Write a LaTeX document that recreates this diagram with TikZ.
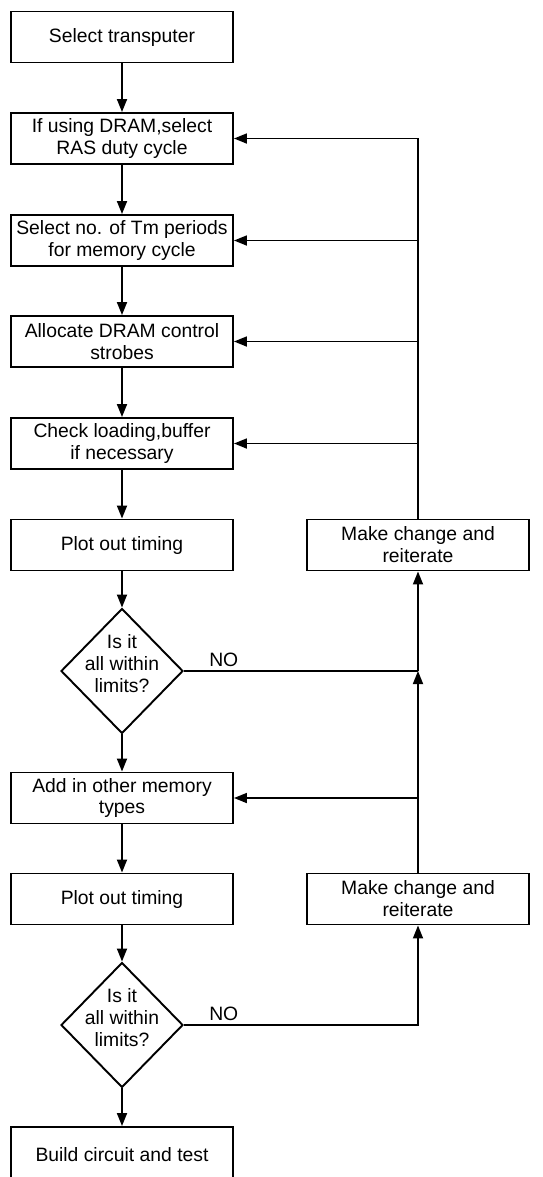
\documentclass[tikz,border=0pt]{standalone}
\usepackage{fontspec}
\setmainfont{Liberation Sans}
\usetikzlibrary{shapes.geometric, arrows.meta, calc}

\begin{document}
\begin{tikzpicture}[
    stepbox/.style={draw, line width=1.1pt, minimum width=4.44cm, minimum height=1.02cm, inner sep=2pt, align=center, font=\fontsize{11}{12.5}\selectfont},
    decision/.style={draw, diamond, line width=1.1pt, minimum width=2.44cm, minimum height=2.5cm, inner sep=0pt, font=\fontsize{11}{12.5}\selectfont},
    arrow/.style={-{Triangle[length=2.6mm, width=2mm]}, line width=1pt},
    link/.style={line width=1pt},
    nolabel/.style={font=\fontsize{11}{12.5}\selectfont, inner sep=2pt}
]
    \useasboundingbox (0,0) rectangle (10.84,-23.54);
    \clip (0,0) rectangle (10.84,-23.54);

    % Steps
    \node[stepbox] (b1) at (2.44,-0.74) {Select transputer};
    \node[stepbox] (b2) at (2.44,-2.77) {If using DRAM,select\\RAS duty cycle};
    \node[stepbox] (b3) at (2.44,-4.81) {Select no. of Tm periods\\for memory cycle};
    \node[stepbox] (b4) at (2.44,-6.83) {Allocate DRAM control\\strobes};
    \node[stepbox] (b5) at (2.44,-8.87) {Check loading,buffer\\if necessary};
    \node[stepbox] (b6) at (2.44,-10.9) {Plot out timing};
    \node[decision] (d1) at (2.44,-13.42) {\makebox[0pt]{\smash{\begin{tabular}{@{}c@{}}Is it\\all within\\limits?\end{tabular}}}};
    \node[stepbox] (b7) at (2.44,-15.96) {Add in other memory\\types};
    \node[stepbox] (b8) at (2.44,-17.98) {Plot out timing};
    \node[decision] (d2) at (2.44,-20.5) {\makebox[0pt]{\smash{\begin{tabular}{@{}c@{}}Is it\\all within\\limits?\end{tabular}}}};
    \node[stepbox, minimum height=1.1cm] (b9) at (2.44,-23.09) {Build circuit and test};

    % Change boxes
    \node[stepbox] (r1) at (8.36,-10.9) {Make change and\\reiterate};
    \node[stepbox] (r2) at (8.36,-17.98) {Make change and\\reiterate};

    % Arrows
    \draw[arrow] (b1) -- (b2);
    \draw[arrow] (b2) -- (b3);
    \draw[arrow] (b3) -- (b4);
    \draw[arrow] (b4) -- (b5);
    \draw[arrow] (b5) -- (b6);
    \draw[arrow] (b6) -- (d1);
    \draw[arrow] (d1) -- (b7);
    \draw[arrow] (b7) -- (b8);
    \draw[arrow] (b8) -- (d2);
    \draw[arrow] (d2) -- (b9);

    % Feedback
    \draw[arrow] (r1.north) |- (b2.east);
    \draw[arrow] (r1.north |- b3.east) -- (b3.east);
    \draw[arrow] (r1.north |- b4.east) -- (b4.east);
    \draw[arrow] (r1.north |- b5.east) -- (b5.east);
    \draw[link] (d1.east) -- node[nolabel, pos=0.17, above] {NO} (d1.east -| r1.south);
    \draw[arrow] (d1.east -| r1.south) -- (r1.south);
    \draw[arrow] (r2.north) -- (d1.east -| r2.north);
    \draw[arrow] (r2.north |- b7.east) -- (b7.east);
    \draw[arrow] (d2.east) -- node[nolabel, pos=0.17, above] {NO} (d2.east -| r2.south) -- (r2.south);
\end{tikzpicture}
\end{document}
